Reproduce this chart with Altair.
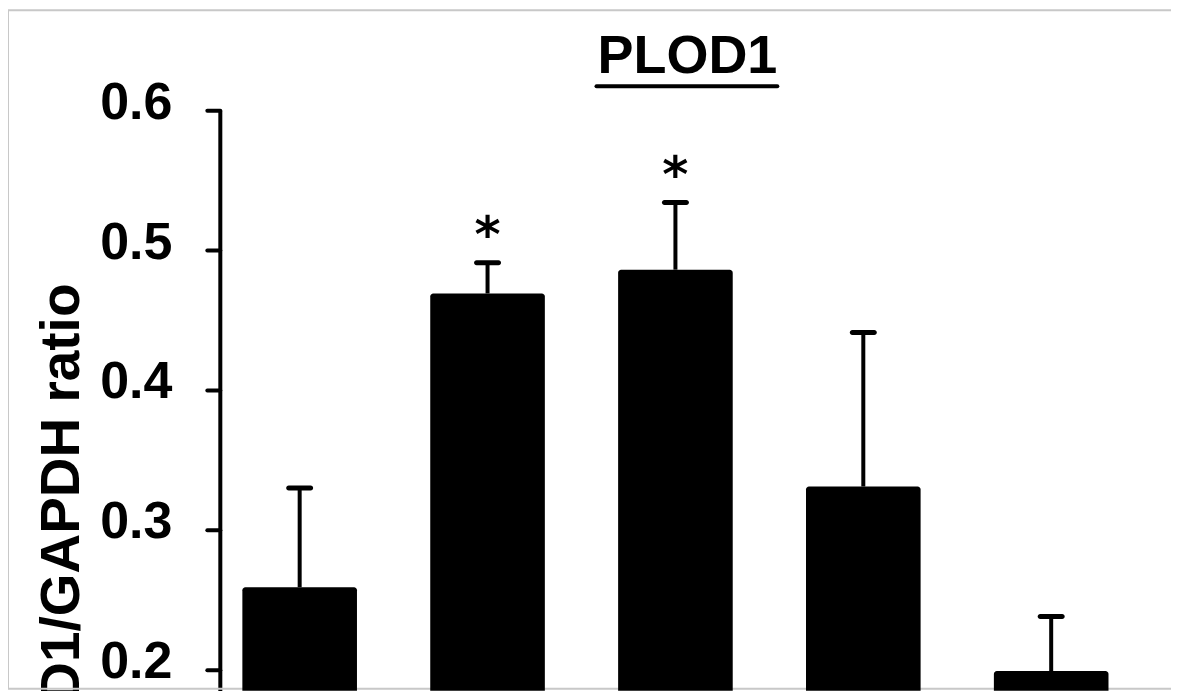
import altair as alt
import pandas as pd

# ---- data ----
groups = ["Group 1", "Group 2", "Group 3", "Group 4", "Group 5"]
means = [0.259, 0.469, 0.486, 0.331, 0.199]
errors = [0.071, 0.022, 0.048, 0.110, 0.039]
signif = ["", "*", "*", "", ""]
tick_values = [0.2, 0.3, 0.4, 0.5, 0.6]
y_min, y_max = 0.185, 0.6
chart_title = "PLOD1"
y_title = "PLOD1/GAPDH ratio"

df = pd.DataFrame({"group": groups, "mean": means, "err": errors, "sig": signif})
df["upper"] = df["mean"] + df["err"]

FONT = "Liberation Sans"

x = alt.X("group:N", sort=groups, axis=None,
          scale=alt.Scale(paddingInner=0.39, paddingOuter=0.12))
yscale = alt.Scale(domain=[y_min, y_max], nice=False, zero=False)

base = alt.Chart(df)

bars = base.mark_bar(color="black", cornerRadiusTopLeft=3, cornerRadiusTopRight=3).encode(
    x=x,
    y=alt.Y("mean:Q", scale=yscale,
            axis=alt.Axis(values=tick_values, format=".1f", grid=False,
                          labelFont=FONT, labelFontSize=52, labelFontWeight="bold",
                          labelColor="black", labelPadding=35, labelOffset=-8,
                          tickSize=13, tickWidth=4, tickColor="black", tickCap="round",
                          domainColor="black", domainWidth=4,
                          title=y_title, titleFont=FONT, titleFontSize=55,
                          titleFontWeight="bold", titleColor="black", titleAngle=270,
                          titleAlign="right", titleBaseline="alphabetic",
                          titleX=-141, titleY=173)),
    y2=alt.datum(y_min),
)

err_rule = base.mark_rule(color="black", strokeWidth=4).encode(
    x=x, y=alt.Y("mean:Q", scale=yscale), y2="upper:Q")

err_cap = base.mark_tick(color="black", opacity=1, thickness=5, size=27,
                         cornerRadius=2.5).encode(
    x=x, y=alt.Y("upper:Q", scale=yscale))

stars = base.mark_text(font="DejaVu Sans", fontWeight="bold", fontSize=50,
                       baseline="alphabetic", dy=-11, color="black").encode(
    x=x, y=alt.Y("upper:Q", scale=yscale), text="sig:N")

one = pd.DataFrame({"label": [chart_title]})
title_text = alt.Chart(one).mark_text(font=FONT, fontSize=54, fontWeight="bold",
                                      color="black", align="center",
                                      baseline="alphabetic").encode(
    x=alt.value(468), y=alt.value(-37), text="label:N")

underline = alt.Chart(one).mark_rule(color="black", strokeWidth=4, strokeCap="round").encode(
    x=alt.value(377), x2=alt.value(558), y=alt.value(-24))

frame = alt.Chart(one).mark_rect(filled=False, stroke="#c8c8c8", strokeWidth=2).encode(
    x=alt.value(-212), x2=alt.value(990), y=alt.value(-100), y2=alt.value(579))

chart = alt.layer(frame, bars, err_rule, err_cap, stars, title_text, underline).properties(
    width=912, height=581,
    autosize=alt.AutoSizeParams(type="none"),
    padding={"left": 212, "top": 102, "right": 40, "bottom": 0},
).configure(background="white").configure_view(stroke=None)

chart.save("out.html", embed_options={"renderer": "svg", "actions": False})
